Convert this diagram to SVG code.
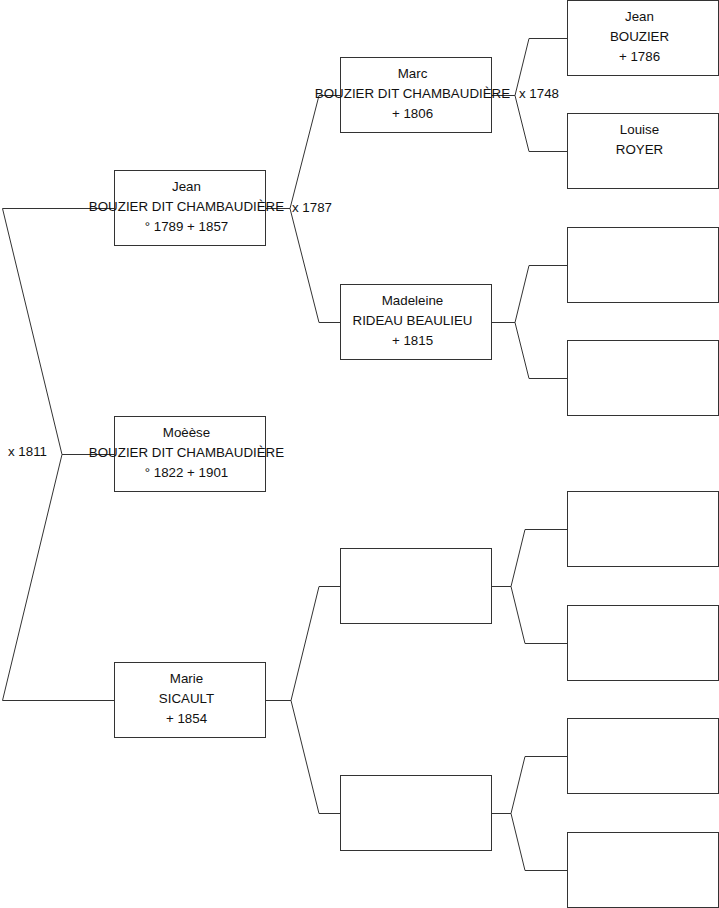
<svg xmlns="http://www.w3.org/2000/svg" width="719" height="908" viewBox="0 0 719 908">
<style>
.bg{fill:#fff}
.c path{fill:none;stroke:#333;stroke-width:1}
.n rect{fill:#fff;stroke:#333;stroke-width:1}
text{font-family:"Liberation Sans",Arial,sans-serif;font-size:13.33px;fill:#111}
.n text{text-anchor:middle}
</style>
<rect class="bg" x="0" y="0" width="719" height="908"/>
<g id="connectors" class="c">
<path d="M114,208.5 H2.5 L62,454.5 L2.5,700.5 H114 M62,454.5 H114"/>
<path d="M265,208.5 H290 M340,95.5 H319 L290,208.5 L319,322.5 H340"/>
<path d="M265,700.5 H291 M340,586.5 H319 L291,700.5 L319,813.5 H340"/>
<path d="M491,95.5 H515 M567,38.5 H529 L515,95.5 L529,151.5 H567"/>
<path d="M491,322.5 H515 M567,265.5 H529 L515,322.5 L529,378.5 H567"/>
<path d="M491,586.5 H511 M567,529.5 H525 L511,586.5 L525,643.5 H567"/>
<path d="M491,813.5 H511 M567,756.5 H525 L511,813.5 L525,870.5 H567"/>
<text x="8" y="456">x 1811</text>
<text x="292" y="211.5">x 1787</text>
<text x="519" y="97.5">x 1748</text>
</g>
<g id="n-jean1" class="n">
<rect x="114.5" y="170.5" width="151" height="75"/>
<text x="186.5" y="191">Jean</text>
<text x="186.5" y="211">BOUZIER DIT CHAMBAUDIÈRE</text>
<text x="186.5" y="231">° 1789 + 1857</text>
</g>
<g id="n-moeese" class="n">
<rect x="114.5" y="416.5" width="151" height="75"/>
<text x="186.5" y="437">Moèèse</text>
<text x="186.5" y="457">BOUZIER DIT CHAMBAUDIÈRE</text>
<text x="186.5" y="477">° 1822 + 1901</text>
</g>
<g id="n-marie" class="n">
<rect x="114.5" y="662.5" width="151" height="75"/>
<text x="186.5" y="683">Marie</text>
<text x="186.5" y="703">SICAULT</text>
<text x="186.5" y="723">+ 1854</text>
</g>
<g id="n-marc" class="n">
<rect x="340.5" y="57.5" width="151" height="75"/>
<text x="412.5" y="78">Marc</text>
<text x="412.5" y="98">BOUZIER DIT CHAMBAUDIÈRE</text>
<text x="412.5" y="118">+ 1806</text>
</g>
<g id="n-madeleine" class="n">
<rect x="340.5" y="284.5" width="151" height="75"/>
<text x="412.5" y="305">Madeleine</text>
<text x="412.5" y="325">RIDEAU BEAULIEU</text>
<text x="412.5" y="345">+ 1815</text>
</g>
<g id="n-p2a" class="n"><rect x="340.5" y="548.5" width="151" height="75"/></g>
<g id="n-p2b" class="n"><rect x="340.5" y="775.5" width="151" height="75"/></g>
<g id="n-jean2" class="n">
<rect x="567.5" y="0.5" width="151" height="75"/>
<text x="639.5" y="20.5">Jean</text>
<text x="639.5" y="40.5">BOUZIER</text>
<text x="639.5" y="60.5">+ 1786</text>
</g>
<g id="n-louise" class="n">
<rect x="567.5" y="113.5" width="151" height="75"/>
<text x="639.5" y="133.5">Louise</text>
<text x="639.5" y="153.5">ROYER</text>
</g>
<g id="n-g3" class="n"><rect x="567.5" y="227.5" width="151" height="75"/></g>
<g id="n-g4" class="n"><rect x="567.5" y="340.5" width="151" height="75"/></g>
<g id="n-g5" class="n"><rect x="567.5" y="491.5" width="151" height="75"/></g>
<g id="n-g6" class="n"><rect x="567.5" y="605.5" width="151" height="75"/></g>
<g id="n-g7" class="n"><rect x="567.5" y="718.5" width="151" height="75"/></g>
<g id="n-g8" class="n"><rect x="567.5" y="832.5" width="151" height="75"/></g>
</svg>
